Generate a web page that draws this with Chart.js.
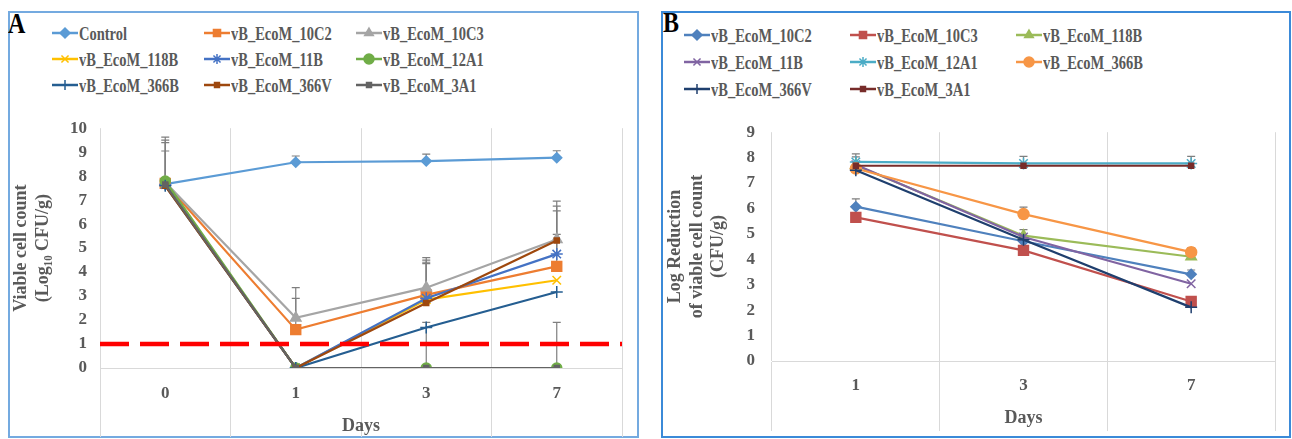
<!DOCTYPE html>
<html>
<head>
<meta charset="utf-8">
<title>Viable cell count and log reduction</title>
<script src="https://cdn.jsdelivr.net/npm/chart.js@4.4.1/dist/chart.umd.min.js"></script>
<style>
    body {
        margin: 0;
        background: #fff;
        width: 1292px;
        height: 439px;
        position: relative;
        overflow: hidden;
        font-family: "Liberation Serif", "Times New Roman", serif;
    }
    .frame {
        position: absolute;
        box-sizing: border-box;
        border: 2px solid #74aae0;
    }
    #frame-b {
        border-color: #3b8ad8;
    }
    .panel-letter {
        position: absolute;
        font-weight: bold;
        font-size: 24px;
        line-height: 24px;
        color: #000;
        transform: scaleY(1.25);
        transform-origin: left top;
    }
    .legend-item {
        position: absolute;
        height: 20px;
        display: flex;
        align-items: center;
        white-space: nowrap;
    }
    .legend-item span {
        display: inline-block;
        margin-left: 1px;
        font-weight: bold;
        font-size: 14.5px;
        line-height: 16px;
        color: #595959;
        transform: scaleY(1.32);
    }
    .chart-canvas {
        position: absolute;
    }
</style>
</head>
<body>
<div class="frame" id="frame-a" style="left:8px;top:11px;width:631px;height:427px"></div>
<div class="frame" id="frame-b" style="left:661px;top:11px;width:630px;height:427px"></div>
<div class="panel-letter" style="left:8px;top:8px">A</div>
<div class="panel-letter" style="left:663px;top:7px">B</div>
<div id="legend-a"></div>
<div id="legend-b"></div>
<canvas id="chart-a" class="chart-canvas" width="628" height="332" style="left:10px;top:105px"></canvas>
<canvas id="chart-b" class="chart-canvas" width="628" height="332" style="left:662px;top:105px"></canvas>

<script>
// Panel A: viable cell count (log10 CFU/g)
const daysA = ['0', '1', '3', '7'];
const controlA = [7.67, 8.58, 8.63, 8.77];
const ecoM10C2A = [7.7, 1.6, 3.05, 4.24];
const ecoM10C3A = [7.75, 2.09, 3.35, 5.36];
const ecoM118BA = [7.7, 0, 2.85, 3.66];
const ecoM11BA = [7.65, 0, 2.91, 4.75];
const ecoM12A1A = [7.8, 0, 0, 0];
const ecoM366BA = [7.6, 0, 1.69, 3.17];
const ecoM366VA = [7.6, 0, 2.71, 5.32];
const ecoM3A1A = [7.65, 0, 0, 0];

// plus-only error bars, panel A
const controlErrA = [0, 0.26, 0.29, 0.29];
const err10C2A = [1.8, 1.3, 1.45, 1.33];
const err10C3A = [1.88, 1.26, 1.25, 1.6];
const err118BA = [0, 0, 1.5, 0];
const err11BA = [1.75, 0, 1.5, 1.8];
const err12A1A = [0, 0, 1.9, 1.9];
const err366VA = [1.45, 0, 0, 1.43];

const detectionLimit = 1;
const yTicksA = { min: 0, max: 10, step: 1 };

// Panel B: log reduction of viable cell count (CFU/g)
const daysB = ['1', '3', '7'];
const ecoM10C2B = [6.07, 4.71, 3.41];
const ecoM10C3B = [5.65, 4.35, 2.34];
const ecoM118BB = [7.7, 4.93, 4.1];
const ecoM11BB = [7.72, 4.88, 3.04];
const ecoM12A1B = [7.83, 7.77, 7.77];
const ecoM366BB = [7.57, 5.78, 4.28];
const ecoM366VB = [7.5, 4.77, 2.11];
const ecoM3A1B = [7.68, 7.68, 7.68];

const err10C2B = [0.31, 0, 0.17];
const err10C3B = [0, 0, 0.16];
const err118BB = [0, 0.24, 0];
const err12A1B = [0.32, 0.28, 0.28];
const err366BB = [0, 0.27, 0.17];
const err3A1B = [0.35, 0, 0];
const yTicksB = { min: 0, max: 9, step: 1 };

const FONT = "'Liberation Serif', 'Times New Roman', serif";
const TEXT_GREY = '#595959';
const GRID_GREY = '#d9d9d9';

Chart.defaults.font.family = FONT;
Chart.defaults.font.weight = 'bold';
Chart.defaults.color = TEXT_GREY;

function series(label, data, errors, color, pointStyle, radius, i) {
    return {
        label,
        data,
        errors,
        borderColor: color,
        backgroundColor: color,
        pointBackgroundColor: color,
        pointBorderColor: color,
        pointStyle,
        pointRadius: radius,
        pointBorderWidth: 1.5,
        borderWidth: 2.2,
        tension: 0,
        order: -i
    };
}

// Excel-style error bars (positive direction only)
const errorBarPlugin = {
    id: 'errorBars',
    beforeDatasetsDraw(chart) {
        const ctx = chart.ctx;
        const yScale = chart.scales.y;
        chart.data.datasets.forEach((ds, i) => {
            if (!ds.errors) return;
            const meta = chart.getDatasetMeta(i);
            ctx.save();
            ctx.strokeStyle = '#7f7f7f';
            ctx.lineWidth = 1.2;
            ds.errors.forEach((err, j) => {
                if (!err) return;
                const pt = meta.data[j];
                const top = yScale.getPixelForValue(ds.data[j] + err);
                ctx.beginPath();
                ctx.moveTo(pt.x, pt.y);
                ctx.lineTo(pt.x, top);
                ctx.moveTo(pt.x - 4, top);
                ctx.lineTo(pt.x + 4, top);
                ctx.stroke();
            });
            ctx.restore();
        });
    }
};

function buildLegend(containerId, datasets, layout) {
    const container = document.getElementById(containerId);
    datasets.forEach((ds, i) => {
        const col = i % 3;
        const row = Math.floor(i / 3);
        const item = document.createElement('div');
        item.className = 'legend-item';
        item.style.left = (layout.left + col * layout.colWidth) + 'px';
        item.style.top = (layout.top + row * layout.rowHeight - 10) + 'px';

        const swatch = document.createElement('canvas');
        swatch.width = 26;
        swatch.height = 16;
        const ctx = swatch.getContext('2d');
        ctx.strokeStyle = ds.borderColor;
        ctx.lineWidth = 2.5;
        ctx.beginPath();
        ctx.moveTo(0, 8);
        ctx.lineTo(26, 8);
        ctx.stroke();
        ctx.fillStyle = ds.pointBackgroundColor;
        ctx.lineWidth = ds.pointBorderWidth;
        if (Chart.helpers && Chart.helpers.drawPoint) {
            Chart.helpers.drawPoint(ctx, {
                pointStyle: ds.pointStyle,
                radius: Math.min(ds.pointRadius, 5),
                borderWidth: ds.pointBorderWidth,
                rotation: 0
            }, 13, 8);
        }

        const text = document.createElement('span');
        text.textContent = ds.label;
        item.appendChild(swatch);
        item.appendChild(text);
        container.appendChild(item);
    });
}

function axisOptions(labels, yRange, yTitle, opts) {
    return {
        x: {
            type: 'category',
            labels,
            offset: true,
            grid: { offset: true, color: GRID_GREY, lineWidth: 1, drawTicks: true, tickLength: opts.tickLength },
            border: { display: true, color: GRID_GREY, width: 1 },
            ticks: { padding: opts.tickPadding, font: { size: 17, weight: 'bold' }, color: TEXT_GREY },
            title: {
                display: true,
                text: 'Days',
                font: { size: 18, weight: 'bold' },
                color: TEXT_GREY,
                padding: { top: 0, bottom: opts.titlePadding }
            },
            afterFit(scale) { scale.height = opts.xHeight; }
        },
        xr: { type: 'linear', display: false, min: 0, max: 1 },
        y: {
            min: yRange.min,
            max: yRange.max,
            ticks: { stepSize: yRange.step, padding: opts.yTickPadding, font: { size: 17, weight: 'bold' }, color: TEXT_GREY },
            grid: { display: false, drawTicks: false },
            border: { display: false },
            title: {
                display: true,
                text: yTitle,
                font: { size: 18, weight: 'bold', lineHeight: 1.18 },
                color: TEXT_GREY,
                padding: { top: opts.yTitlePadding, bottom: 0 }
            },
            afterFit(scale) { scale.width = opts.yWidth; }
        }
    };
}

// ---- Panel A ----
const datasetsA = [
    series('Control', controlA, controlErrA, '#5b9bd5', 'rectRot', 5, 0),
    series('vB_EcoM_10C2', ecoM10C2A, err10C2A, '#ed7d31', 'rect', 7, 1),
    series('vB_EcoM_10C3', ecoM10C3A, err10C3A, '#a5a5a5', 'triangle', 6, 2),
    series('vB_EcoM_118B', ecoM118BA, err118BA, '#ffc000', 'crossRot', 6, 3),
    series('vB_EcoM_11B', ecoM11BA, err11BA, '#4472c4', 'star', 6, 4),
    series('vB_EcoM_12A1', ecoM12A1A, err12A1A, '#70ad47', 'circle', 5, 5),
    series('vB_EcoM_366B', ecoM366BA, null, '#255e91', 'cross', 6, 6),
    series('vB_EcoM_366V', ecoM366VA, err366VA, '#9e480e', 'rect', 3.5, 7),
    series('vB_EcoM_3A1', ecoM3A1A, null, '#636363', 'rect', 3.5, 8)
];
buildLegend('legend-a', datasetsA, { left: 52, top: 33, colWidth: 152, rowHeight: 26 });

const limitLine = {
    label: 'Detection limit',
    data: [{ x: 0, y: detectionLimit }, { x: 1, y: detectionLimit }],
    xAxisID: 'xr',
    borderColor: '#ff0000',
    borderWidth: 4.5,
    borderDash: [29, 11],
    pointRadius: 0,
    order: -100
};

new Chart(document.getElementById('chart-a'), {
    type: 'line',
    data: { labels: daysA, datasets: [...datasetsA, limitLine] },
    options: {
        responsive: false,
        animation: false,
        layout: { padding: { top: 18, right: 16, bottom: 0, left: 0 } },
        plugins: { legend: { display: false }, tooltip: { enabled: false } },
        scales: axisOptions(daysA, yTicksA, ['Viable cell count', '(Log\u2081\u2080 CFU/g)'], {
            tickLength: 69, tickPadding: -54, titlePadding: 0, xHeight: 69,
            yTickPadding: 13, yTitlePadding: 1, yWidth: 90
        })
    },
    plugins: [errorBarPlugin]
});

// ---- Panel B ----
const datasetsB = [
    series('vB_EcoM_10C2', ecoM10C2B, err10C2B, '#4f81bd', 'rectRot', 5, 0),
    series('vB_EcoM_10C3', ecoM10C3B, err10C3B, '#c0504d', 'rect', 7, 1),
    series('vB_EcoM_118B', ecoM118BB, err118BB, '#9bbb59', 'triangle', 6, 2),
    series('vB_EcoM_11B', ecoM11BB, null, '#8064a2', 'crossRot', 6, 3),
    series('vB_EcoM_12A1', ecoM12A1B, err12A1B, '#4bacc6', 'star', 6, 4),
    series('vB_EcoM_366B', ecoM366BB, err366BB, '#f79646', 'circle', 5.5, 5),
    series('vB_EcoM_366V', ecoM366VB, null, '#1f3f6e', 'cross', 6, 6),
    series('vB_EcoM_3A1', ecoM3A1B, err3A1B, '#772c2a', 'rect', 3.5, 7)
];
buildLegend('legend-b', datasetsB, { left: 684, top: 34.5, colWidth: 166, rowHeight: 27 });

new Chart(document.getElementById('chart-b'), {
    type: 'line',
    data: { labels: daysB, datasets: datasetsB },
    options: {
        responsive: false,
        animation: false,
        layout: { padding: { top: 25, right: 15, bottom: 0, left: 0 } },
        plugins: { legend: { display: false }, tooltip: { enabled: false } },
        scales: axisOptions(daysB, yTicksB, ['Log Reduction', 'of viable cell count', '(CFU/g)'], {
            tickLength: 70, tickPadding: -56, titlePadding: 8, xHeight: 76,
            yTickPadding: 17, yTitlePadding: 3, yWidth: 110
        })
    },
    plugins: [errorBarPlugin]
});
</script>
</body>
</html>
